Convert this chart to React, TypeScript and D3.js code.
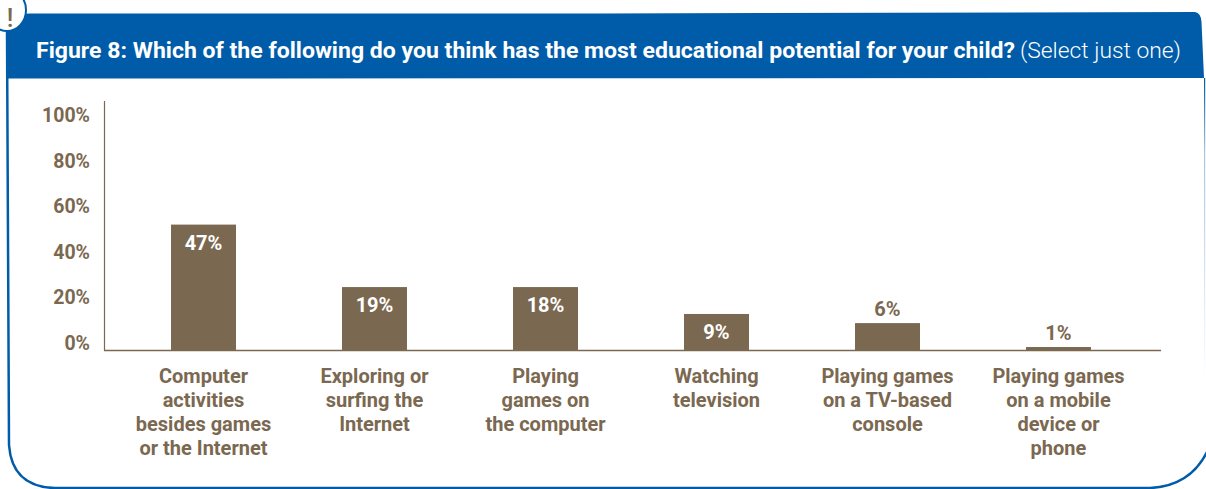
import React from "react";
import * as d3 from "d3";

const categories = [
  ["Computer", "activities", "besides games", "or the Internet"],
  ["Exploring or", "surfing the", "Internet"],
  ["Playing", "games on", "the computer"],
  ["Watching", "television"],
  ["Playing games", "on a TV-based", "console"],
  ["Playing games", "on a mobile", "device or", "phone"],
];
const barValues = [55, 27.6, 27.6, 15.8, 11.8, 1.3];
const valueLabels = ["47%", "19%", "18%", "9%", "6%", "1%"];
const tickValues = [0, 20, 40, 60, 80, 100];

const BROWN = "#7b6850";
const BLUE = "#005ca9";
const FONT = "Roboto, sans-serif";

export default function App() {
  const y = d3.scaleLinear().domain([0, 100]).range([350, 122]);
  const x = d3
    .scaleBand<number>()
    .domain(d3.range(barValues.length))
    .range([118, 1144])
    .paddingInner(0.62)
    .paddingOuter(0.31);
  const bw = x.bandwidth();
  return (
    <svg width={1206} height={489} style={{ position: "absolute", left: 0, top: 0, display: "block" }} fontFamily={FONT}>
      <defs>
        <linearGradient id="edge" x1="0" y1="0" x2="0" y2="1">
          <stop offset="0" stopColor={BLUE} />
          <stop offset="0.25" stopColor="#a9c6e2" />
          <stop offset="1" stopColor="#ffffff" />
        </linearGradient>
      </defs>
      <path d="M7 30 L9 445 Q12 487 55 488 L1150 488 Q1190 486 1207 452" fill="none" stroke={BLUE} strokeWidth={2.5} />
      <rect x={1204} y={78} width={1.2} height={300} fill="url(#edge)" />
      <path d="M6 78.5 L6 30 Q6 14 30 13.5 L600 13.5 L1195 12 Q1201 13 1201.5 22 L1204 78 Z" fill={BLUE} />
      <ellipse cx={7} cy={10} rx={19} ry={21} fill="#fff" stroke={BLUE} strokeWidth={2} />
      <text x={10} y={26.5} fontSize={25} fontWeight={500} fill={BROWN} textAnchor="middle">!</text>

      <text x={36} y={58} fontSize={21.5} fontWeight={700} fill="#fff" textLength={979} lengthAdjust="spacingAndGlyphs">
        Figure 8: Which of the following do you think has the most educational potential for your child?
      </text>
      <text x={1020} y={58} fontSize={21.5} fontWeight={300} fill="#fff" textLength={161} lengthAdjust="spacingAndGlyphs">
        (Select just one)
      </text>

      <line x1={104.5} x2={104.5} y1={101} y2={351} stroke={BROWN} strokeWidth={1.2} />
      <line x1={104} x2={1161} y1={350.5} y2={350.5} stroke={BROWN} strokeWidth={1.5} />

      {tickValues.map((t) => (
        <text key={t} x={90} y={y(t)} fontSize={19.5} fontWeight={700} fill={BROWN} textAnchor="end">
          {t}%
        </text>
      ))}

      {barValues.map((v, i) => {
        const inside = v > 15;
        const cx = (x(i) as number) + bw / 2;
        return (
          <g key={i}>
            <rect x={x(i)} y={y(v)} width={bw} height={350.5 - y(v)} fill={BROWN} />
            <text
              x={cx}
              y={inside ? y(v) + 25 : y(v) - 7}
              fontSize={20}
              fontWeight={700}
              fill={inside ? "#fff" : BROWN}
              textAnchor="middle"
            >
              {valueLabels[i]}
            </text>
            {categories[i].map((line, j) => (
              <text key={j} x={cx} y={383 + j * 24} fontSize={20} fontWeight={700} fill={BROWN} textAnchor="middle">
                {line}
              </text>
            ))}
          </g>
        );
      })}
    </svg>
  );
}
